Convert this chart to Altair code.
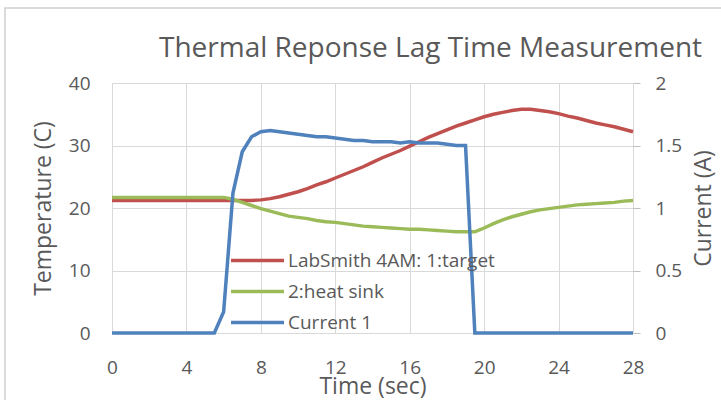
import altair as alt
import pandas as pd

# Sample times (s)
time_s = [
    0.0, 0.5, 1.0, 1.5, 2.0, 2.5, 3.0, 3.5, 4.0, 4.5, 5.0, 5.5, 6.0, 6.5, 7.0, 7.5,
    8.0, 8.5, 9.0, 9.5, 10.0, 10.5, 11.0, 11.5, 12.0, 12.5, 13.0, 13.5, 14.0, 14.5,
    15.0, 15.5, 16.0, 16.5, 17.0, 17.5, 18.0, 18.5, 19.0, 19.5, 20.0, 20.5, 21.0,
    21.5, 22.0, 22.5, 23.0, 23.5, 24.0, 24.5, 25.0, 25.5, 26.0, 26.5, 27.0, 27.5, 28.0,
]

# Channel 1: target temperature (C)
target_c = [
    21.2, 21.2, 21.2, 21.2, 21.2, 21.2, 21.2, 21.2, 21.2, 21.2, 21.2, 21.2, 21.2, 21.2, 21.2, 21.2,
    21.3, 21.5, 21.8, 22.2, 22.6, 23.1, 23.7, 24.2, 24.8, 25.4, 26.0, 26.6, 27.3, 28.0,
    28.6, 29.2, 29.9, 30.6, 31.3, 31.9, 32.5, 33.1, 33.6, 34.1, 34.6, 35.0, 35.3,
    35.6, 35.8, 35.8, 35.6, 35.4, 35.1, 34.7, 34.4, 34.0, 33.6, 33.3, 33.0, 32.6, 32.2,
]

# Channel 2: heat sink temperature (C)
heat_sink_c = [
    21.7, 21.7, 21.7, 21.7, 21.7, 21.7, 21.7, 21.7, 21.7, 21.7, 21.7, 21.7, 21.7, 21.4, 20.9, 20.4,
    19.9, 19.5, 19.1, 18.7, 18.5, 18.3, 18.0, 17.8, 17.7, 17.5, 17.3, 17.1, 17.0, 16.9,
    16.8, 16.7, 16.6, 16.6, 16.5, 16.4, 16.3, 16.2, 16.2, 16.2, 16.8, 17.5, 18.1,
    18.6, 19.0, 19.4, 19.7, 19.9, 20.1, 20.3, 20.5, 20.6, 20.7, 20.8, 20.9, 21.1, 21.2,
]

# Heater drive current (A)
current_a = [
    0.0, 0.0, 0.0, 0.0, 0.0, 0.0, 0.0, 0.0, 0.0, 0.0, 0.0, 0.0, 0.17, 1.12, 1.45, 1.57,
    1.61, 1.62, 1.61, 1.60, 1.59, 1.58, 1.57, 1.57, 1.56, 1.55, 1.54, 1.54, 1.53, 1.53,
    1.53, 1.52, 1.53, 1.52, 1.52, 1.52, 1.51, 1.50, 1.50, 0.0, 0.0, 0.0, 0.0,
    0.0, 0.0, 0.0, 0.0, 0.0, 0.0, 0.0, 0.0, 0.0, 0.0, 0.0, 0.0, 0.0, 0.0,
]

series_names = ["LabSmith 4AM: 1:target", "\u00a02:heat sink", "Current 1"]
series_colors = ["#c0504d", "#9bbb59", "#4f81bd"]

x_ticks = [0, 4, 8, 12, 16, 20, 24, 28]
temp_ticks = [0, 10, 20, 30, 40]
current_ticks = [0, 0.5, 1, 1.5, 2]

FONT = "Open Sans"
GREY = "#595959"
GRID = "#d9d9d9"

temps = pd.DataFrame({
    "time": time_s + time_s,
    "value": target_c + heat_sink_c,
    "series": [series_names[0]] * len(time_s) + [series_names[1]] * len(time_s),
})
current = pd.DataFrame({
    "time": time_s,
    "value": current_a,
    "series": [series_names[2]] * len(time_s),
})

color = alt.Color(
    "series:N",
    scale=alt.Scale(domain=series_names, range=series_colors),
    sort=series_names,
    legend=alt.Legend(
        title=None,
        orient="none",
        legendX=136,
        legendY=168,
        direction="vertical",
        # long horizontal line swatch
        symbolType="M-5.3,0H5.3",
        symbolSize=100,
        symbolStrokeWidth=3.5,
        labelFont=FONT,
        labelFontSize=19,
        labelColor=GREY,
        labelOffset=21,
        labelLimit=0,
        rowPadding=11,
    ),
)

x_enc = alt.X(
    "time:Q",
    scale=alt.Scale(domain=[0, 28], nice=False, zero=False),
    axis=alt.Axis(
        values=x_ticks,
        title="Time (sec)",
        domain=False,
        ticks=False,
        grid=True,
        gridColor=GRID,
        labelFlush=False,
        labelFont=FONT,
        labelFontSize=19,
        labelColor=GREY,
        labelPadding=25,
        titleFont=FONT,
        titleFontSize=23,
        titleFontWeight="normal",
        titleColor=GREY,
        titlePadding=-2,
    ),
)

temp_layer = alt.Chart(temps).mark_line(strokeWidth=3.5).encode(
    x=x_enc,
    y=alt.Y(
        "value:Q",
        scale=alt.Scale(domain=[0, 40], nice=False),
        axis=alt.Axis(
            orient="left",
            values=temp_ticks,
            title="Temperature (C)",
            domain=False,
            ticks=False,
            grid=True,
            gridColor=GRID,
            labelFlush=False,
            labelFont=FONT,
            labelFontSize=19,
            labelColor=GREY,
            labelPadding=22,
            titleFont=FONT,
            titleFontSize=23,
            titleFontWeight="normal",
            titleColor=GREY,
            titlePadding=13,
        ),
    ),
    color=color,
)

current_layer = alt.Chart(current).mark_line(strokeWidth=3.5).encode(
    x=x_enc,
    y=alt.Y(
        "value:Q",
        scale=alt.Scale(domain=[0, 2], nice=False),
        axis=alt.Axis(
            orient="right",
            values=current_ticks,
            format="~g",
            title="Current (A)",
            titleAngle=270,
            domain=False,
            ticks=True,
            tickSize=7,
            tickColor="#bfbfbf",
            grid=False,
            labelFlush=False,
            labelFont=FONT,
            labelFontSize=19,
            labelColor=GREY,
            labelPadding=15,
            titleFont=FONT,
            titleFontSize=23,
            titleFontWeight="normal",
            titleColor=GREY,
            titlePadding=34,
        ),
    ),
    color=color,
)

# Light outer frame around the chart area
frame = alt.Chart(pd.DataFrame({"k": [0]})).mark_rect(
    fill=None, stroke="#d0d0d0", strokeWidth=1.5
).encode(
    x=alt.value(-107), x2=alt.value(700), y=alt.value(-75), y2=alt.value(500)
)

chart = (
    alt.layer(frame, temp_layer, current_layer)
    .resolve_scale(y="independent")
    .properties(
        width=521,
        height=250,
        autosize=alt.AutoSizeParams(type="none"),
        padding={"left": 112, "top": 83, "right": 88, "bottom": 67},
        title=alt.TitleParams(
            "Thermal Reponse Lag Time Measurement",
            font=FONT,
            fontSize=28,
            fontWeight="normal",
            color=GREY,
            anchor="middle",
            dx=58,
            dy=60,
        ),
        background="white",
    )
    .configure_view(strokeWidth=0)
)

chart.save("out.html", embed_options={"renderer": "svg", "actions": False})
